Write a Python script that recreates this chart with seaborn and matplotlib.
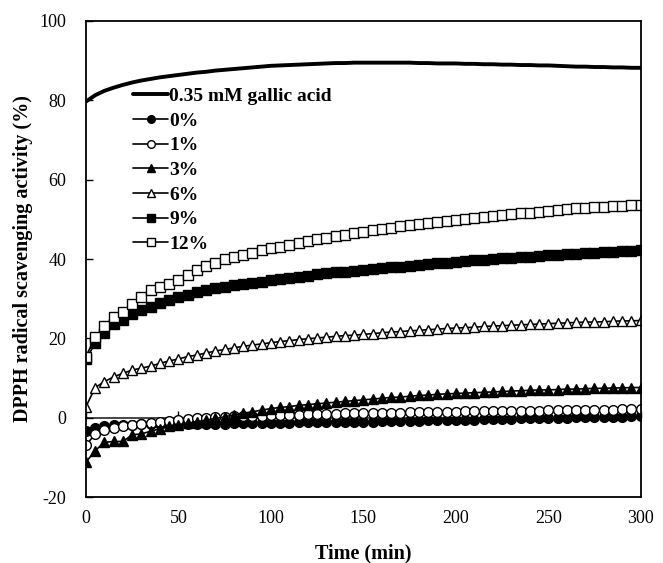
import matplotlib
matplotlib.use("Agg")
import matplotlib.pyplot as plt
import seaborn as sns

sns.set_style("white")
plt.rcParams["font.family"] = ["Liberation Serif", "DejaVu Serif"]
plt.rcParams["axes.unicode_minus"] = False
plt.rcParams["text.color"] = "black"
plt.rcParams["axes.labelcolor"] = "black"
plt.rcParams["xtick.color"] = "black"
plt.rcParams["ytick.color"] = "black"

# sampling times (min)
time = [0, 5, 10, 15, 20, 25, 30, 35, 40, 45,
        50, 55, 60, 65, 70, 75, 80, 85, 90, 95,
        100, 105, 110, 115, 120, 125, 130, 135, 140, 145,
        150, 155, 160, 165, 170, 175, 180, 185, 190, 195,
        200, 205, 210, 215, 220, 225, 230, 235, 240, 245,
        250, 255, 260, 265, 270, 275, 280, 285, 290, 295,
        300]

# DPPH radical scavenging activity (%)
gallic = [79.7, 81.3, 82.4, 83.2, 83.9, 84.5, 85.0, 85.4, 85.8, 86.1,
          86.4, 86.7, 87.0, 87.2, 87.5, 87.7, 87.9, 88.1, 88.3, 88.5,
          88.7, 88.8, 88.9, 89.0, 89.1, 89.2, 89.3, 89.4, 89.4, 89.5,
          89.5, 89.5, 89.5, 89.5, 89.5, 89.5, 89.4, 89.4, 89.3, 89.3,
          89.3, 89.2, 89.2, 89.1, 89.1, 89.0, 89.0, 88.9, 88.9, 88.8,
          88.8, 88.7, 88.6, 88.5, 88.5, 88.4, 88.4, 88.3, 88.3, 88.2,
          88.2]

p0 = [-3.3, -2.5, -2.1, -1.9, -1.8, -1.8, -1.7, -1.7, -1.7, -1.6,
      -1.6, -1.6, -1.5, -1.5, -1.5, -1.5, -1.4, -1.4, -1.4, -1.4,
      -1.3, -1.3, -1.3, -1.2, -1.2, -1.2, -1.1, -1.1, -1.1, -1.0,
      -1.0, -1.0, -0.9, -0.9, -0.9, -0.8, -0.8, -0.7, -0.7, -0.6,
      -0.6, -0.5, -0.5, -0.4, -0.4, -0.3, -0.3, -0.2, -0.2, -0.1,
      -0.1, 0.0, 0.0, 0.1, 0.1, 0.1, 0.2, 0.2, 0.2, 0.3,
      0.3]

p1 = [-6.9, -4.2, -3.2, -2.6, -2.2, -1.9, -1.6, -1.3, -1.0, -0.8,
      -0.6, -0.4, -0.2, 0.0, 0.1, 0.2, 0.3, 0.4, 0.5, 0.5,
      0.6, 0.7, 0.7, 0.8, 0.9, 0.9, 1.0, 1.0, 1.1, 1.1,
      1.2, 1.2, 1.3, 1.3, 1.3, 1.4, 1.4, 1.4, 1.5, 1.5,
      1.5, 1.6, 1.6, 1.6, 1.7, 1.7, 1.7, 1.8, 1.8, 1.8,
      1.9, 1.9, 1.9, 1.9, 2.0, 2.0, 2.0, 2.0, 2.1, 2.1,
      2.1]

p3 = [-11.2, -8.3, -6.2, -6.0, -6.0, -4.3, -4.1, -3.4, -2.8, -2.2,
      -1.8, -1.4, -1.0, -0.6, -0.2, 0.2, 0.7, 1.1, 1.5, 1.9,
      2.3, 2.6, 2.8, 3.1, 3.3, 3.5, 3.7, 3.9, 4.1, 4.3,
      4.5, 4.7, 4.9, 5.1, 5.2, 5.4, 5.6, 5.7, 5.9, 6.0,
      6.1, 6.2, 6.3, 6.4, 6.5, 6.6, 6.7, 6.8, 6.9, 7.0,
      7.0, 7.1, 7.2, 7.2, 7.3, 7.4, 7.4, 7.5, 7.5, 7.6,
      7.6]

p6 = [2.8, 7.6, 9.1, 10.3, 11.2, 12.0, 12.5, 13.0, 13.7, 14.3,
      14.8, 15.4, 15.8, 16.3, 16.8, 17.2, 17.6, 18.0, 18.3, 18.6,
      18.9, 19.2, 19.4, 19.7, 19.9, 20.1, 20.3, 20.5, 20.7, 20.8,
      21.0, 21.2, 21.4, 21.6, 21.7, 21.9, 22.0, 22.2, 22.3, 22.5,
      22.6, 22.7, 22.8, 23.0, 23.1, 23.2, 23.3, 23.4, 23.5, 23.6,
      23.7, 23.8, 23.9, 24.0, 24.1, 24.1, 24.2, 24.3, 24.4, 24.4,
      24.5]

p9 = [14.7, 18.8, 21.3, 23.6, 24.6, 26.1, 27.1, 28.0, 28.8, 29.6,
      30.4, 31.0, 31.6, 32.1, 32.6, 33.0, 33.4, 33.7, 34.0, 34.3,
      34.6, 34.9, 35.2, 35.5, 35.8, 36.1, 36.4, 36.6, 36.8, 37.1,
      37.3, 37.5, 37.7, 37.9, 38.1, 38.3, 38.5, 38.7, 38.9, 39.1,
      39.3, 39.5, 39.7, 39.8, 40.0, 40.2, 40.3, 40.5, 40.6, 40.8,
      40.9, 41.0, 41.2, 41.3, 41.4, 41.5, 41.7, 41.8, 41.9, 42.0,
      42.2]

p12 = [15.4, 20.4, 23.0, 25.5, 26.7, 28.7, 30.4, 32.2, 32.9, 33.7,
       34.7, 36.0, 37.3, 38.3, 38.9, 39.9, 40.6, 41.0, 41.6, 42.3,
       42.7, 43.1, 43.5, 44.1, 44.6, 45.0, 45.3, 45.7, 46.1, 46.5,
       46.9, 47.2, 47.6, 47.9, 48.2, 48.5, 48.8, 49.1, 49.4, 49.7,
       49.9, 50.1, 50.4, 50.6, 50.9, 51.1, 51.3, 51.5, 51.7, 51.9,
       52.2, 52.4, 52.6, 52.8, 52.9, 53.0, 53.2, 53.3, 53.4, 53.5,
       53.6]

x_ticks = [0, 50, 100, 150, 200, 250, 300]
y_ticks = [-20, 0, 20, 40, 60, 80, 100]

# label, values, marker, face colour, size
series = [
    ("0%", p0, "o", "black", 7),
    ("1%", p1, "o", "white", 7),
    ("3%", p3, "^", "black", 7),
    ("6%", p6, "^", "white", 7),
    ("9%", p9, "s", "black", 6.5),
    ("12%", p12, "s", "white", 7),
]

fig = plt.figure(figsize=(6.63, 5.63), dpi=100)
ax = fig.add_axes([0.1297, 0.1172, 0.8367, 0.8455])

sns.lineplot(x=time, y=gallic, color="black", linewidth=2.8,
             label="0.35 mM gallic acid", ax=ax)
for name, vals, mk, face, ms in series:
    sns.lineplot(x=time, y=vals, color="black", linewidth=1.2,
                 marker=mk, markersize=ms, markerfacecolor=face,
                 markeredgecolor="black", markeredgewidth=1.0,
                 label=name, ax=ax)

ax.set_xlim(0, 300)
ax.set_ylim(-20, 100)
ax.set_xticks(x_ticks)
ax.set_yticks(y_ticks)
ax.tick_params(axis="x", length=0, pad=9, labelsize=13)
ax.tick_params(axis="y", direction="in", length=5, width=1, pad=14,
               labelsize=13, left=True)
for sp in ax.spines.values():
    sp.set_visible(True)
    sp.set_color("black")
    sp.set_linewidth(1.3)

# horizontal axis line crossing at 0
zero_ax = ax.secondary_xaxis((0 - (-20)) / 120)
zero_ax.set_xticks(x_ticks)
zero_ax.tick_params(direction="in", length=5, width=1,
                    labelbottom=False, labeltop=False)
zero_ax.spines["bottom"].set_linewidth(1.2)

ax.set_xlabel("Time (min)", fontsize=14.5, fontweight="bold", labelpad=12)
ax.set_ylabel("DPPH radical scavenging activity (%)", fontsize=14.5,
              fontweight="bold", labelpad=5)

leg = ax.legend(loc="upper left", bbox_to_anchor=(0.085, 0.86),
                frameon=False, borderpad=0, borderaxespad=0,
                handlelength=1.8, handletextpad=0.05, labelspacing=0.36,
                prop={"family": "Liberation Serif", "weight": "bold",
                      "size": 14})
for h in leg.legend_handles:
    h.set_markersize(5.5)

fig.savefig("out.png", dpi=100)
